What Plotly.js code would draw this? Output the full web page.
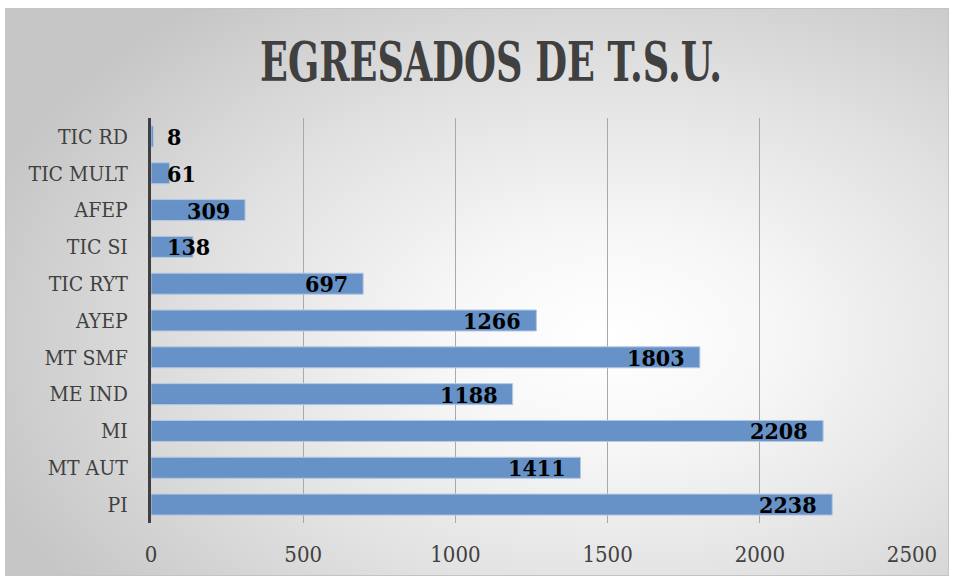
<!DOCTYPE html>
<html>
<head>
<meta charset="utf-8">
<script src="https://cdn.plot.ly/plotly-3.0.1.min.js"></script>
<style>
  html, body { margin: 0; padding: 0; background: #ffffff; }
  #wrap { position: relative; width: 954px; height: 579px; overflow: hidden; }
  #bg { position: absolute; left: 5px; top: 8px; width: 944px; height: 568px;
        border: 1px solid #c4c4c4; box-sizing: border-box;
        background: radial-gradient(ellipse 70% 75% at 64% 58%, #ffffff 0%, #f7f7f7 25%, #e2e2e2 60%, #c6c6c6 100%); }
  #chart { position: absolute; left: 0; top: 0; width: 954px; height: 579px; }
</style>
</head>
<body>
<div id="wrap"><div id="bg"></div><div id="chart"></div></div>
<script>
// Data (top to bottom as shown)
var categories = ["TIC RD", "TIC MULT", "AFEP", "TIC SI", "TIC RYT", "AYEP", "MT SMF", "ME IND", "MI", "MT AUT", "PI"];
var values = [8, 61, 309, 138, 697, 1266, 1803, 1188, 2208, 1411, 2238];
var xTicks = [0, 500, 1000, 1500, 2000, 2500];
var titleText = "EGRESADOS DE T.S.U.";

var W = 954, H = 579, L = 151, R = 42, T = 118, B = 56;
var xMax = 2500;
var pxPerUnit = (W - L - R) / xMax;

var trace = {
  type: "bar",
  orientation: "h",
  y: categories,
  x: values,
  marker: { color: "#6792c7", line: { color: "#b3c8e4", width: 1 } },
  hoverinfo: "skip",
  cliponaxis: false
};

var serif = "DejaVu Serif, serif";
var condSerif = "DejaVu Serif Condensed, DejaVu Serif, serif";
var labelFont = { family: condSerif, size: 23, color: "#000000", weight: "bold" };
var annotations = values.map(function (v, i) {
  var txt = String(v);
  var estW = txt.length * 14.5;
  var endPx = v * pxPerUnit;
  var leftAlign = (endPx - 15 - estW) < 17;
  return {
    x: leftAlign ? 0 : v,
    y: categories[i],
    xref: "x", yref: "y",
    text: "<b>" + txt + "</b>",
    showarrow: false,
    xanchor: leftAlign ? "left" : "right",
    xshift: leftAlign ? 14 : -13,
    yshift: 0,
    font: labelFont
  };
});

var layout = {
  width: W, height: H,
  margin: { l: L, r: R, t: T, b: B, pad: 0 },
  paper_bgcolor: "rgba(0,0,0,0)",
  plot_bgcolor: "rgba(0,0,0,0)",
  showlegend: false,
  bargap: 0.43,
  title: {
    text: "<b>" + titleText + "</b>",
    x: 491 / W, xanchor: "center",
    y: 1 - 62 / H, yanchor: "middle",
    font: { family: serif, size: 54, color: "#404040" }
  },
  xaxis: {
    range: [0, xMax],
    tickvals: xTicks,
    ticktext: xTicks.map(String),
    showgrid: true, gridcolor: "#a9a9a9", gridwidth: 1,
    zeroline: false, showline: false, ticks: "",
    ticklabelstandoff: 16,
    tickfont: { family: condSerif, size: 22, color: "#404040" },
    fixedrange: true
  },
  yaxis: {
    type: "category",
    autorange: "reversed",
    showgrid: false, zeroline: false,
    showline: true, linecolor: "#404040", linewidth: 3,
    ticks: "",
    ticklabelstandoff: 16,
    tickfont: { family: condSerif, size: 21, color: "#404040" },
    fixedrange: true
  },
  annotations: annotations
};

Plotly.newPlot("chart", [trace], layout, { displayModeBar: false, staticPlot: true }).then(function (gd) {
  // condense the title horizontally, like the narrow bold face of the original
  var t = gd.querySelector(".gtitle");
  if (t) {
    var bb = t.getBBox();
    var cx = bb.x + bb.width / 2;
    var s = 462 / bb.width;
    var prev = t.getAttribute("transform") || "";
    t.setAttribute("transform", prev + " translate(" + cx + ",0) scale(" + s + ",1) translate(" + (-cx) + ",0)");
  }
});
</script>
</body>
</html>
